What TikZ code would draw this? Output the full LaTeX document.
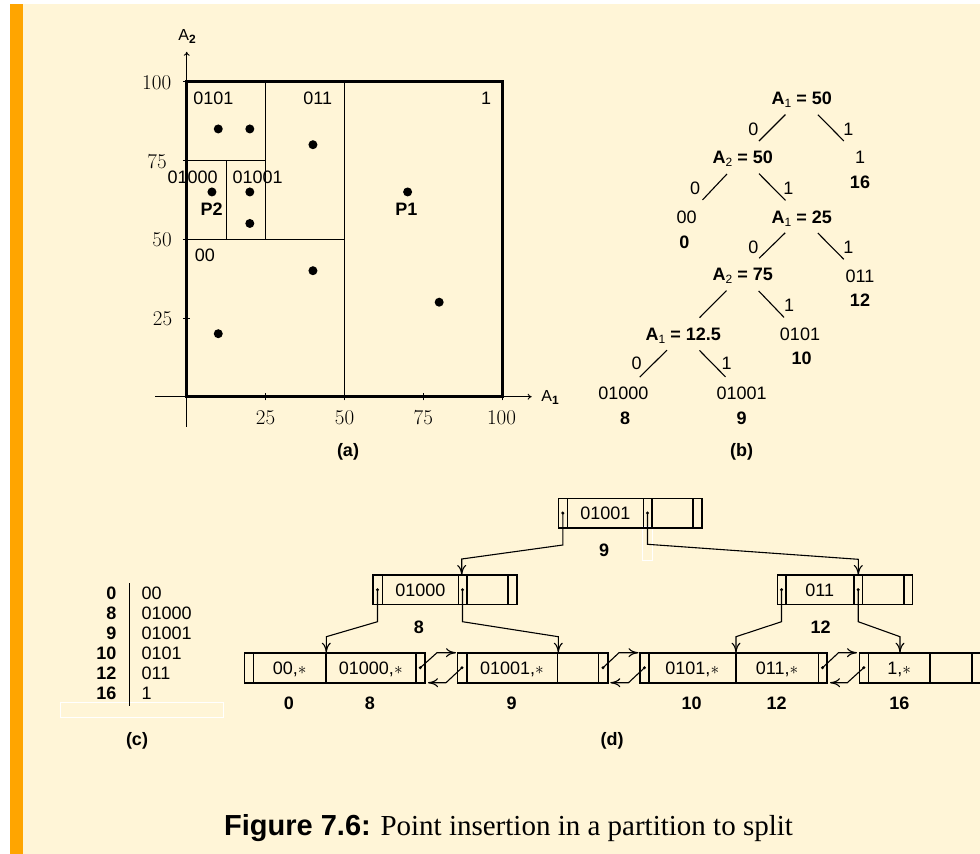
\documentclass[tikz,border=0pt]{standalone}
\usepackage{fontspec}
\newfontfamily\lsans{Liberation Sans}
\newfontfamily\lserif{Liberation Serif}
\usetikzlibrary{arrows.meta}
\definecolor{cream}{RGB}{255,245,215}
\definecolor{barorange}{RGB}{255,165,0}
\newcommand\mysub[1]{\raisebox{-3pt}{\mdseries\fontsize{12}{12}\selectfont #1}}
\tikzset{
  lab/.style={font=\lsans\fontsize{18}{20}\selectfont, inner sep=0pt, text height=12.9pt, text depth=0pt},
  blab/.style={font=\lsans\bfseries\fontsize{18}{20}\selectfont, inner sep=0pt, text height=12.9pt, text depth=0pt},
  axnum/.style={font=\fontsize{21}{24}\selectfont, inner sep=0pt, text height=13.5pt, text depth=0pt},
  axlab/.style={inner sep=0pt, font=\lsans\fontsize{16}{16}\selectfont},
  tedge/.style={line width=1.1pt, shorten <=23pt, shorten >=23pt},
  bx/.style={line width=1.6pt},
  ptr/.style={line width=1.1pt, -{To[length=10pt,width=9pt]}},
  datapt/.style={circle, fill=black, inner sep=0pt, minimum size=9pt},
}
\begin{document}
\begin{tikzpicture}[x=1pt,y=-1pt]
\useasboundingbox (0,0) rectangle (980,854);
\fill[white] (0,0) rectangle (980,854);
\fill[cream] (10,4) rectangle (980,854);
\fill[barorange] (10,4) rectangle (23,854);

% ---------------- (a) ----------------
\begin{scope}[shift={(186.7,396.7)}, x=3.156pt, y=3.15pt]
  \draw[line width=0.9pt, -{To[length=4pt,width=6pt]}] (-10,0) -- (109.3,0);
  \draw[line width=0.9pt, -{To[length=4pt,width=6pt]}] (0,-9.6) -- (0,109.5);
  \foreach \t in {25,50,75,100} {
    \draw[line width=0.9pt] (\t,-1.2) -- (\t,1.2);
    \draw[line width=0.9pt] (-1.2,\t) -- (1.2,\t);
  }
  \draw[line width=1pt] (50,0) -- (50,100);
  \draw[line width=1pt] (0,50) -- (50,50);
  \draw[line width=1pt] (25,50) -- (25,100);
  \draw[line width=1pt] (0,75) -- (25,75);
  \draw[line width=1pt] (12.5,50) -- (12.5,75);
  \draw[line width=3pt] (0,0) rectangle (100,100);
  \node[datapt] (q1) at (10,85) {};
  \node[datapt] (q2) at (20,85) {};
  \node[datapt] (q3) at (40,80) {};
  \node[datapt] (q4) at (8,65) {};
  \node[datapt] (q5) at (20,65) {};
  \node[datapt] (q6) at (20,55) {};
  \node[datapt] (q7) at (70,65) {};
  \node[datapt] (q8) at (40,40) {};
  \node[datapt] (q9) at (80,30) {};
  \node[datapt] (q10) at (10,20) {};
\end{scope}
\node[axlab] (ax2) at (187,36) {A\raisebox{-3pt}{\bfseries\fontsize{12}{12}\selectfont 2}};
\node[axlab] (ax1) at (550,397) {A\raisebox{-3pt}{\bfseries\fontsize{12}{12}\selectfont 1}};
\node[axnum] (y100) at (156.7,82.7) {100};
\node[axnum] (y75) at (157,161.5) {75};
\node[axnum] (y50) at (162,240) {50};
\node[axnum] (y25) at (162.5,318.3) {25};
\node[axnum] (x25) at (265.5,417.3) {25};
\node[axnum] (x50) at (344.5,417.3) {50};
\node[axnum] (x75) at (423.3,417.3) {75};
\node[axnum] (x100) at (501.5,417.3) {100};
\node[lab] (r0101) at (213.3,97.7) {0101};
\node[lab] (r011) at (317.7,97.7) {011};
\node[lab] (r1) at (486,97.7) {1};
\node[lab] (r01000) at (192.7,176.7) {01000};
\node[lab] (r01001) at (257.7,176.7) {01001};
\node[lab] (r00) at (205,255) {00};
\node[blab] (lP2) at (211.7,209) {P2};
\node[blab] (lP1) at (406.3,209) {P1};
\node[blab] (capa) at (348,450) {(a)};

% ---------------- (b) ----------------
\node[blab] (t1) at (801.7,98.3) {A\mysub{1} = 50};
\node[blab] (t2) at (742.7,157.3) {A\mysub{2} = 50};
\node[lab] (l16) at (860,157.3) {1};
\node[blab] (n16) at (860,182.3) {16};
\node[lab] (l00) at (686.7,216.7) {00};
\node[blab] (n0) at (684.3,241.7) {0};
\node[blab] (t3) at (801.7,216.7) {A\mysub{1} = 25};
\node[blab] (t4) at (742.7,274.3) {A\mysub{2} = 75};
\node[lab] (l011) at (860,275.7) {011};
\node[blab] (n12) at (860,300) {12};
\node[blab] (t5) at (683.3,334) {A\mysub{1} = 12.5};
\node[lab] (l0101) at (800,334) {0101};
\node[blab] (n10) at (801.7,358.3) {10};
\node[lab] (l01000) at (623.3,393.3) {01000};
\node[blab] (n8) at (625,418.3) {8};
\node[lab] (l01001) at (741.7,393.3) {01001};
\node[blab] (n9) at (741.7,418.3) {9};
\node[blab] (capb) at (741.7,450) {(b)};
\draw[tedge] (t1.center) -- (t2.center);
\draw[tedge] (t1.center) -- (l16.center);
\draw[tedge] (t2.center) -- (l00.center);
\draw[tedge] (t2.center) -- (t3.center);
\draw[tedge] (t3.center) -- (t4.center);
\draw[tedge] (t3.center) -- (l011.center);
\draw[tedge] (t4.center) -- (t5.center);
\draw[tedge] (t4.center) -- (l0101.center);
\draw[tedge] (t5.center) -- (l01000.center);
\draw[tedge] (t5.center) -- (l01001.center);
\node[lab] (e1) at (753.3,129.3) {0};
\node[lab] (e2) at (848.3,129.3) {1};
\node[lab] (e3) at (695,188.3) {0};
\node[lab] (e4) at (788.3,188.3) {1};
\node[lab] (e5) at (753.3,246.7) {0};
\node[lab] (e6) at (848.3,246.7) {1};
\node[lab] (e7) at (789,305) {1};
\node[lab] (e8) at (636.7,363.3) {0};
\node[lab] (e9) at (726.7,363.3) {1};

% ---------------- (c) ----------------
\draw[white, line width=0.6pt] (60.7,702.7) rectangle (223.3,717.3);
\draw[line width=0.9pt] (129,583.3) -- (129,706);
\foreach \k/\a/\b in {0/0/00, 1/8/01000, 2/9/01001, 3/10/0101, 4/12/011, 5/16/1} {
  \node[blab, anchor=east] (ck\k) at (116.5,592.7+20*\k) {\a};
  \node[lab, anchor=west] (cv\k) at (141.5,592.7+20*\k) {\b};
}
\node[blab] (capc) at (137,739) {(c)};

% ---------------- (d) ----------------
\draw[white, line width=0.6pt] (642.7,526.7) rectangle (652.3,560);
% root
\draw[bx] (558.3,498.3) rectangle (701.7,527.7);
\foreach \x in {567.3,643.3,651.7,692.7} \draw[bx] (\x,498.3) -- (\x,527.7);
\node[lab] (rk) at (605.3,513) {01001};
\node[blab] (rn) at (604,550) {9};
\coordinate (rp0) at (562.8,513);
\coordinate (rp1) at (647.5,513);
% level 2 left
\draw[bx] (372.7,575) rectangle (516.7,604.3);
\foreach \x in {382.3,458.3,466.7,507.7} \draw[bx] (\x,575) -- (\x,604.3);
\node[lab] (lk) at (420.3,589.7) {01000};
\node[blab] (ln) at (419,626.7) {8};
\coordinate (lp0) at (377.5,589.7);
\coordinate (lp1) at (462.5,589.7);
\coordinate (lin) at (461.7,575);
% level 2 right
\draw[bx] (777.3,575) rectangle (912.3,604.3);
\foreach \x in {785.7,854,862.3,904} \draw[bx] (\x,575) -- (\x,604.3);
\node[lab] (rrk) at (819.8,589.7) {011};
\node[blab] (rrn) at (820.7,626.7) {12};
\coordinate (mp0) at (781.5,589.7);
\coordinate (mp1) at (858.2,589.7);
\coordinate (min) at (858.3,575);
% leaves
\draw[bx] (244.3,652.7) rectangle (425,682.7);
\foreach \x in {253.3,326,415.7} \draw[bx] (\x,652.7) -- (\x,682.7);
\draw[bx] (457.3,652.7) rectangle (607.7,682.7);
\foreach \x in {466.7,557.3,598.3} \draw[bx] (\x,652.7) -- (\x,682.7);
\draw[bx] (640,652.7) rectangle (826.7,682.7);
\foreach \x in {649,735.7,818.3} \draw[bx] (\x,652.7) -- (\x,682.7);
\draw[bx] (859.3,652.7) rectangle (981,682.7);
\foreach \x in {868.3,930,971.7} \draw[bx] (\x,652.7) -- (\x,682.7);
\node[lab] (k1) at (289.7,667.7) {00,$\ast$};
\node[lab] (k2) at (370.8,667.7) {01000,$\ast$};
\node[lab] (k3) at (512,667.7) {01001,$\ast$};
\node[lab] (k4) at (692.3,667.7) {0101,$\ast$};
\node[lab] (k5) at (777,667.7) {011,$\ast$};
\node[lab] (k6) at (899.3,667.7) {1,$\ast$};
\node[blab] (b0) at (289,703.3) {0};
\node[blab] (b8) at (370,703.3) {8};
\node[blab] (b9) at (511.7,703.3) {9};
\node[blab] (b10) at (691.7,703.3) {10};
\node[blab] (b12) at (776.7,703.3) {12};
\node[blab] (b16) at (899.3,703.3) {16};
\coordinate (f1in) at (326.3,652.7);
\coordinate (f2in) at (558.3,652.7);
\coordinate (f3in) at (736,652.7);
\coordinate (f4in) at (900,652.7);
\coordinate (f1r) at (420.3,667.7);
\coordinate (f2l) at (462,667.7);
\coordinate (f2r) at (603,667.7);
\coordinate (f3l) at (644.5,667.7);
\coordinate (f3r) at (822.5,667.7);
\coordinate (f4l) at (863.8,667.7);
\coordinate (s12) at (456,652.7);
\coordinate (s21) at (428,682.7);
\coordinate (s23) at (638.5,652.7);
\coordinate (s32) at (610.3,682.7);
\coordinate (s34) at (857,652.7);
\coordinate (s43) at (830,682.7);
\foreach \c in {rp0,rp1,lp0,lp1,mp0,mp1,f1r,f2l,f2r,f3l,f3r,f4l} \fill (\c) circle (1.7pt);
\draw[ptr] (rp0) -- ++(0,32) -- (461.7,559) -- (lin);
\draw[ptr] (rp1) -- ++(0,31.3) -- (858.3,559.3) -- (min);
\draw[ptr] (lp0) -- ++(0,32) -- (326.3,636.7) -- (f1in);
\draw[ptr] (lp1) -- ++(0,32) -- (558.3,636.7) -- (f2in);
\draw[ptr] (mp0) -- ++(0,32) -- (736,636.7) -- (f3in);
\draw[ptr] (mp1) -- ++(0,32) -- (900,636.7) -- (f4in);
\draw[ptr] (f1r) -- ++(16.7,-15) -- (s12);
\draw[ptr] (f2l) -- ++(-16,15) -- (s21);
\draw[ptr] (f2r) -- ++(16,-15) -- (s23);
\draw[ptr] (f3l) -- ++(-16,15) -- (s32);
\draw[ptr] (f3r) -- ++(16,-15) -- (s34);
\draw[ptr] (f4l) -- ++(-16.5,15) -- (s43);
\node[blab] (capd) at (612,739) {(d)};

% caption
\node[anchor=base west, inner sep=0pt, font=\lserif\fontsize{29}{32}\selectfont] (cap) at (224,835) {{\lsans\bfseries Figure 7.6:} Point insertion in a partition to split};
\end{tikzpicture}
\end{document}
